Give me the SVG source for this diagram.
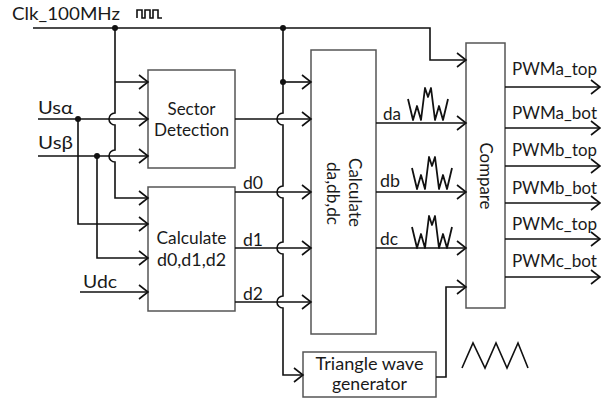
<svg xmlns="http://www.w3.org/2000/svg" xmlns:xlink="http://www.w3.org/1999/xlink" width="601" height="403" viewBox="0 0 601 403">
<style>
.box{fill:#fff;stroke:#555;stroke-width:1.5}
.ln{fill:none;stroke:#111;stroke-width:1.6}
.t{font-family:Lato,"Open Sans","Liberation Sans",sans-serif;font-size:17px;fill:#1a1a1a}
.m{text-anchor:middle}
.dot{fill:#111}
</style>
<defs>
<marker id="ah" markerUnits="userSpaceOnUse" markerWidth="12" markerHeight="16" refX="10" refY="8" orient="auto" viewBox="0 0 12 16">
<path d="M1,1 L10,8 L1,15" fill="none" stroke="#111" stroke-width="1.6"/>
</marker>
<path id="wv" d="M0,11 L5,32 L9,18 L13,32 L17,0 L20,9 L23,0 L27,32 L31,18 L35,32 L40,11" fill="none" stroke="#111" stroke-width="1.8" stroke-linejoin="round"/>
</defs>

<g id="clk-label">
<text class="t" x="12" y="20" textLength="108" lengthAdjust="spacingAndGlyphs">Clk_100MHz</text>
<path class="ln" d="M137,18 V10 H142 V18 H145 V10 H150 V18 H153 V10 H158 V18 H162"/>
</g>
<g id="in-usa"><text class="t" x="38" y="114" textLength="35" lengthAdjust="spacingAndGlyphs">Usα</text></g>
<g id="in-usb"><text class="t" x="38" y="149" textLength="35" lengthAdjust="spacingAndGlyphs">Usβ</text></g>
<g id="in-udc"><text class="t" x="83" y="288" textLength="34" lengthAdjust="spacingAndGlyphs">Udc</text></g>

<g id="sector">
<rect class="box" x="148" y="70" width="87" height="98"/>
<text class="t m" x="191.5" y="115" textLength="48" lengthAdjust="spacingAndGlyphs">Sector</text>
<text class="t m" x="191.5" y="136" textLength="75" lengthAdjust="spacingAndGlyphs">Detection</text>
</g>
<g id="calc-d">
<rect class="box" x="148" y="187" width="87" height="124"/>
<text class="t m" x="191.5" y="244" textLength="70" lengthAdjust="spacingAndGlyphs">Calculate</text>
<text class="t m" x="191.5" y="266" textLength="69" lengthAdjust="spacingAndGlyphs">d0,d1,d2</text>
</g>
<g id="calc-dadbdc">
<rect class="box" x="311" y="50" width="65" height="284"/>
<text class="t m" x="349" y="192.5" transform="rotate(90 349 192.5)" textLength="69" lengthAdjust="spacingAndGlyphs">Calculate</text>
<text class="t m" x="327" y="193.5" transform="rotate(90 327 193.5)" textLength="63" lengthAdjust="spacingAndGlyphs">da,db,dc</text>
</g>
<g id="compare">
<rect class="box" x="466" y="43" width="39" height="265"/>
<text class="t m" x="480" y="176" transform="rotate(90 480 176)" textLength="67" lengthAdjust="spacingAndGlyphs">Compare</text>
</g>
<g id="triangle">
<rect class="box" x="303" y="352" width="133" height="45"/>
<text class="t m" x="369.5" y="370" textLength="108" lengthAdjust="spacingAndGlyphs">Triangle wave</text>
<text class="t m" x="369.5" y="390" textLength="75" lengthAdjust="spacingAndGlyphs">generator</text>
<path class="ln" d="M462,368 L473,343 L485,368 L496,343 L507,368 L518,343 L528,368"/>
</g>
<g id="outputs">
<text class="t" x="512" y="75" textLength="85" lengthAdjust="spacingAndGlyphs">PWMa_top</text>
<text class="t" x="512" y="119" textLength="85" lengthAdjust="spacingAndGlyphs">PWMa_bot</text>
<text class="t" x="512" y="156" textLength="85" lengthAdjust="spacingAndGlyphs">PWMb_top</text>
<text class="t" x="512" y="194" textLength="85" lengthAdjust="spacingAndGlyphs">PWMb_bot</text>
<text class="t" x="512" y="230" textLength="85" lengthAdjust="spacingAndGlyphs">PWMc_top</text>
<text class="t" x="512" y="267" textLength="85" lengthAdjust="spacingAndGlyphs">PWMc_bot</text>
</g>

<g id="connectors">
<path class="ln" d="M33,28 H430 V60 H466" marker-end="url(#ah)"/>
<path class="ln" d="M115,28 V113 A6,6 0 0 0 115,125 V150 A6,6 0 0 0 115,162 V198 H148" marker-end="url(#ah)"/>
<path class="ln" d="M115,82 H148" marker-end="url(#ah)"/>
<path class="ln" d="M283,28 V113 A6,6 0 0 0 283,125 V186 A6,6 0 0 0 283,198 V242 A6,6 0 0 0 283,254 V296 A6,6 0 0 0 283,308 V375 H303" marker-end="url(#ah)"/>
<path class="ln" d="M283,82 H311" marker-end="url(#ah)"/>
<path class="ln" d="M38,119 H148" marker-end="url(#ah)"/>
<path class="ln" d="M78,119 V224 H148" marker-end="url(#ah)"/>
<path class="ln" d="M38,156 H148" marker-end="url(#ah)"/>
<path class="ln" d="M97,156 V258 H148" marker-end="url(#ah)"/>
<path class="ln" d="M80,292 H148" marker-end="url(#ah)"/>
<path class="ln" d="M235,119 H311" marker-end="url(#ah)"/>
<path class="ln" d="M235,192 H311" marker-end="url(#ah)"/>
<path class="ln" d="M235,248 H311" marker-end="url(#ah)"/>
<path class="ln" d="M235,302 H311" marker-end="url(#ah)"/>
<path class="ln" d="M376,123 H466" marker-end="url(#ah)"/>
<path class="ln" d="M376,192 H466" marker-end="url(#ah)"/>
<path class="ln" d="M376,248 H466" marker-end="url(#ah)"/>
<path class="ln" d="M436,377 H446 V287 H466" marker-end="url(#ah)"/>
<path class="ln" d="M505,87 H600" marker-end="url(#ah)"/>
<path class="ln" d="M505,128 H600" marker-end="url(#ah)"/>
<path class="ln" d="M505,166 H600" marker-end="url(#ah)"/>
<path class="ln" d="M505,203 H600" marker-end="url(#ah)"/>
<path class="ln" d="M505,239 H600" marker-end="url(#ah)"/>
<path class="ln" d="M505,277 H600" marker-end="url(#ah)"/>
<circle class="dot" cx="115" cy="28" r="3"/>
<circle class="dot" cx="283" cy="28" r="3"/>
<circle class="dot" cx="283" cy="82" r="3"/>
<circle class="dot" cx="78" cy="119" r="3"/>
<circle class="dot" cx="97" cy="156" r="3"/>
</g>
<g id="labels">
<text class="t" x="243" y="189" textLength="20" lengthAdjust="spacingAndGlyphs">d0</text>
<text class="t" x="243" y="246" textLength="20" lengthAdjust="spacingAndGlyphs">d1</text>
<text class="t" x="243" y="300" textLength="20" lengthAdjust="spacingAndGlyphs">d2</text>
<text class="t" x="383" y="120" textLength="18" lengthAdjust="spacingAndGlyphs">da</text>
<text class="t" x="380" y="187" textLength="20" lengthAdjust="spacingAndGlyphs">db</text>
<text class="t" x="380" y="245" textLength="18" lengthAdjust="spacingAndGlyphs">dc</text>
<use xlink:href="#wv" x="408" y="88"/>
<use xlink:href="#wv" x="412" y="157"/>
<use xlink:href="#wv" x="412" y="216"/>
</g>
</svg>
